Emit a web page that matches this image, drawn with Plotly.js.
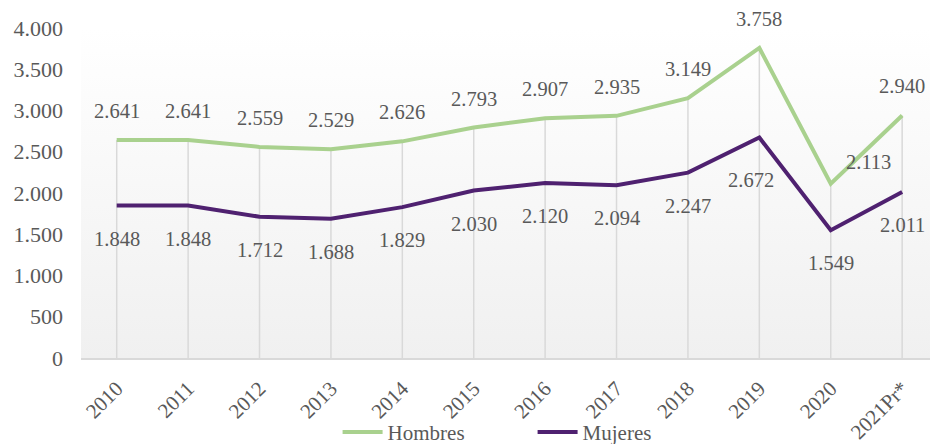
<!DOCTYPE html>
<html>
<head>
<meta charset="utf-8">
<script src="https://cdn.plot.ly/plotly-3.0.1.min.js"></script>
<style>html,body{margin:0;padding:0;background:#fff;}#chart{width:930px;height:444px;}</style>
</head>
<body>
<div id="chart"></div>
<script>
const categories = ['2010','2011','2012','2013','2014','2015','2016','2017','2018','2019','2020','2021Pr*'];
const hombres = [2641, 2641, 2559, 2529, 2626, 2793, 2907, 2935, 3149, 3758, 2113, 2940];
const mujeres = [1848, 1848, 1712, 1688, 1829, 2030, 2120, 2094, 2247, 2672, 1549, 2011];
const yTickVals = [0, 500, 1000, 1500, 2000, 2500, 3000, 3500, 4000];
const yTickText = ['0', '500', '1.000', '1.500', '2.000', '2.500', '3.000', '3.500', '4.000'];

const fmt = v => {
  const s = String(v);
  return s.length > 3 ? s.slice(0, s.length - 3) + '.' + s.slice(s.length - 3) : s;
};

const GREEN = '#a9d18e';
const PURPLE = '#4f2170';
const SERIF = 'Liberation Serif, Times New Roman, serif';
const LABEL_FONT = {family: SERIF, size: 20.5, color: '#595959'};

const traces = [
  {
    x: categories, y: hombres, type: 'scatter', mode: 'markers',
    marker: {opacity: 0, size: 1}, showlegend: false, hoverinfo: 'skip',
    error_y: {type: 'data', symmetric: false, array: hombres.map(() => 0), arrayminus: hombres,
      width: 0, color: '#d9d9d9', thickness: 1.5}
  },
  {
    x: categories, y: hombres, type: 'scatter', mode: 'lines', name: 'Hombres',
    line: {color: GREEN, width: 4}
  },
  {
    x: categories, y: mujeres, type: 'scatter', mode: 'lines', name: 'Mujeres',
    line: {color: PURPLE, width: 4}
  }
];

const annotations = [];
categories.forEach((c, i) => {
  let hx = 0, hy = 29;
  if (c === '2020') { hx = 38; hy = 22; }
  annotations.push({x: i, y: hombres[i], text: fmt(hombres[i]), showarrow: false,
    xshift: hx, yshift: hy, font: LABEL_FONT});
  let mx = 0, my = -33;
  if (c === '2019') { mx = -8; my = -42; }
  annotations.push({x: i, y: mujeres[i], text: fmt(mujeres[i]), showarrow: false,
    xshift: mx, yshift: my, font: LABEL_FONT});
});

const grad = "<svg xmlns='http://www.w3.org/2000/svg' width='10' height='10' preserveAspectRatio='none'>" +
  "<defs><linearGradient id='g' x1='0' y1='0' x2='0' y2='1'>" +
  "<stop offset='0' stop-color='#ffffff'/><stop offset='1' stop-color='#f0f0f0'/>" +
  "</linearGradient></defs><rect width='10' height='10' fill='url(#g)'/></svg>";

const layout = {
  width: 930, height: 444,
  margin: {l: 81, r: 0, t: 28, b: 86},
  paper_bgcolor: '#ffffff',
  plot_bgcolor: 'rgba(0,0,0,0)',
  font: {family: SERIF, size: 21, color: '#595959'},
  images: [{
    source: 'data:image/svg+xml;charset=utf-8,' + encodeURIComponent(grad),
    xref: 'paper', yref: 'paper', x: 0, y: 1, sizex: 1, sizey: 1,
    sizing: 'stretch', xanchor: 'left', yanchor: 'top', layer: 'below'
  }],
  xaxis: {
    type: 'category', range: [-0.5, 11.39], automargin: false,
    showgrid: false, zeroline: false,
    showline: true, linecolor: '#d9d9d9', linewidth: 2,
    ticks: '', tickangle: -45, ticklabelstandoff: 8,
    tickfont: {family: SERIF, size: 21, color: '#595959'},
    fixedrange: true
  },
  yaxis: {
    range: [0, 4000], automargin: false, showgrid: false, zeroline: false, showline: false,
    tickvals: yTickVals, ticktext: yTickText, ticks: '', ticklabelstandoff: 17,
    tickfont: {family: SERIF, size: 22, color: '#595959'},
    fixedrange: true
  },
  showlegend: true,
  legend: {
    orientation: 'h', xref: 'container', yref: 'container',
    x: 0.363, xanchor: 'left', y: 0.026, yanchor: 'middle',
    font: {family: SERIF, size: 21, color: '#595959'},
    bgcolor: 'rgba(0,0,0,0)', itemwidth: 40, tracegroupgap: 0,
    entrywidth: 140, entrywidthmode: 'pixels'
  },
  annotations: annotations
};

Plotly.newPlot('chart', traces, layout, {displayModeBar: false, staticPlot: true});
</script>
</body>
</html>
